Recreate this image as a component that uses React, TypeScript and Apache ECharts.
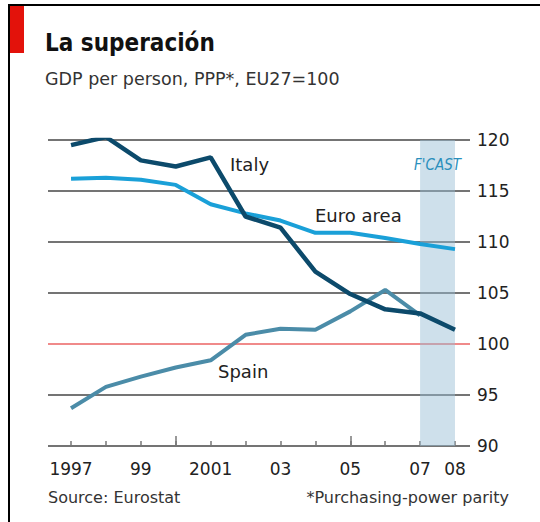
import React, { useEffect, useRef } from "react";
import * as echarts from "echarts";

const years = [1997, 1998, 1999, 2000, 2001, 2002, 2003, 2004, 2005, 2006, 2007, 2008];
const italy = [119.5, 120.3, 118.0, 117.4, 118.3, 112.5, 111.4, 107.1, 104.9, 103.4, 103.0, 101.4];
const euroArea = [116.2, 116.3, 116.1, 115.6, 113.7, 112.8, 112.1, 110.9, 110.9, 110.4, 109.8, 109.3];
const spain = [93.7, 95.8, 96.8, 97.7, 98.4, 100.9, 101.5, 101.4, 103.2, 105.3, 102.8];
const xLabelYears = [1997, 1999, 2001, 2003, 2005, 2007, 2008];
const majorTickYears = [2000, 2005];
const yTicks = [90, 95, 100, 105, 110, 115, 120];
const forecast = [2007, 2008];

const CFONT = "'DejaVu Sans Condensed', 'DejaVu Sans', sans-serif";
const FONT = "'DejaVu Sans', sans-serif";

export default function App() {
  const ref = useRef<HTMLDivElement>(null);
  useEffect(() => {
    document.body.style.margin = "0";
    const chart = echarts.init(ref.current!, null, { renderer: "svg" });
    const xMin = 1996.34;
    const xMax = 2008.43;
    const pair = (arr: number[]) => arr.map((v, i) => [years[i], v]);
    chart.setOption({
      animation: false,
      backgroundColor: "#ffffff",
      textStyle: { fontFamily: FONT },
      grid: { left: 48, right: 70, top: 140, bottom: 76, containLabel: false },
      xAxis: [
        {
          type: "value",
          min: xMin,
          max: xMax,
          splitLine: { show: false },
          axisLine: { show: false },
          axisTick: {
            show: true,
            inside: true,
            length: 5,
            customValues: years,
            lineStyle: { color: "#777", width: 1.5 },
          },
          axisLabel: {
            show: true,
            customValues: xLabelYears,
            formatter: (v: number) => {
              if (v === 1997 || v === 2001) return String(v);
              return String(v).slice(2);
            },
            color: "#222",
            fontSize: 17,
            fontFamily: FONT,
            margin: 14,
          },
        },
        {
          type: "value",
          min: xMin,
          max: xMax,
          position: "bottom",
          splitLine: { show: false },
          axisLine: { show: false },
          axisLabel: { show: false },
          axisTick: {
            show: true,
            inside: true,
            length: 10,
            customValues: majorTickYears,
            lineStyle: { color: "#777", width: 1.5 },
          },
        },
      ],
      yAxis: {
        type: "value",
        position: "right",
        min: 90,
        max: 120,
        interval: 5,
        axisLine: { show: false },
        axisTick: { show: false },
        axisLabel: {
          color: "#222",
          fontSize: 17,
          fontFamily: FONT,
          margin: 7,
        },
        splitLine: {
          show: true,
          lineStyle: {
            width: 2,
            color: yTicks.map((v) => (v === 100 ? "#f08a8a" : "#747474")),
          },
        },
      },
      series: [
        {
          name: "Spain",
          type: "line",
          data: pair(spain),
          symbol: "none",
          lineStyle: { color: "#4b8ca8", width: 4 },
          z: 3,
          markArea: {
            silent: true,
            itemStyle: { color: "rgba(150,190,212,0.47)" },
            label: {
              show: true,
              position: "insideTop",
              distance: 17,
              formatter: "F'CAST",
              color: "#2a8fbc",
              fontStyle: "italic",
              fontSize: 15,
              fontFamily: CFONT,
            },
            data: [[{ xAxis: forecast[0], yAxis: 90 }, { xAxis: forecast[1], yAxis: 120 }]],
          },
        },
        {
          name: "Euro area",
          type: "line",
          data: pair(euroArea),
          symbol: "none",
          lineStyle: { color: "#1aa0d8", width: 4 },
          z: 4,
        },
        {
          name: "Italy",
          type: "line",
          data: pair(italy),
          symbol: "none",
          lineStyle: { color: "#0c4a6b", width: 4.5 },
          z: 5,
        },
      ],
      graphic: [
        { type: "rect", shape: { x: 8, y: 4, width: 540, height: 2 }, style: { fill: "#000" } },
        { type: "rect", shape: { x: 8, y: 4, width: 2, height: 520 }, style: { fill: "#000" } },
        { type: "rect", shape: { x: 10, y: 6, width: 14, height: 47 }, style: { fill: "#e3120b" } },
        {
          type: "text",
          left: 45,
          top: 31,
          style: { text: "La superación", fill: "#111", font: `bold 24px ${CFONT}` },
        },
        {
          type: "text",
          left: 45,
          top: 70,
          style: { text: "GDP per person, PPP*, EU27=100", fill: "#333", font: `17.5px ${FONT}` },
        },
        {
          type: "text",
          left: 230,
          top: 155,
          style: { text: "Italy", fill: "#222", font: `18px ${FONT}` },
        },
        {
          type: "text",
          left: 315,
          top: 206,
          style: { text: "Euro area", fill: "#222", font: `18px ${FONT}` },
        },
        {
          type: "text",
          left: 218,
          top: 362,
          style: { text: "Spain", fill: "#222", font: `18px ${FONT}` },
        },
        {
          type: "text",
          left: 48,
          top: 489,
          style: { text: "Source: Eurostat", fill: "#333", font: `16px ${FONT}` },
        },
        {
          type: "text",
          right: 31,
          top: 489,
          style: { text: "*Purchasing-power parity", fill: "#333", font: `16px ${FONT}` },
        },
      ],
    });
    return () => chart.dispose();
  }, []);
  return <div ref={ref} style={{ width: 540, height: 522, position: "absolute", left: 0, top: 0 }} />;
}
